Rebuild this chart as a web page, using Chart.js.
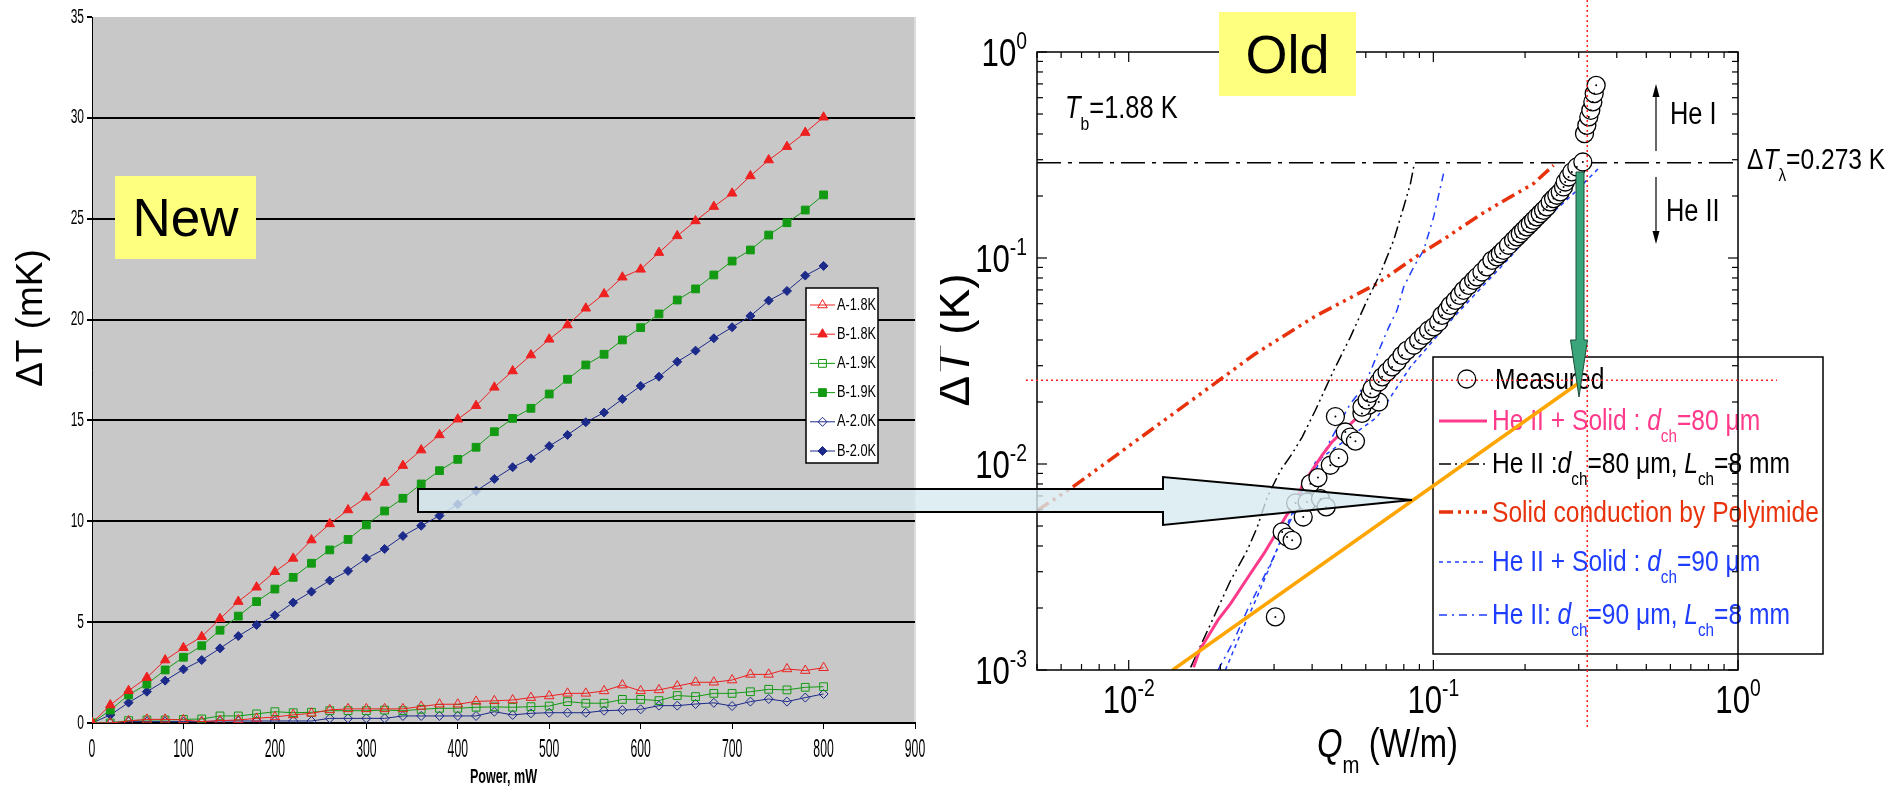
<!DOCTYPE html>
<html>
<head>
<meta charset="utf-8">
<script src="https://cdn.jsdelivr.net/npm/chart.js@4.4.1/dist/chart.umd.min.js"></script>
<style>
  html, body { margin: 0; padding: 0; background: #fff; width: 1903px; height: 790px; overflow: hidden; }
  #leftChart { position: absolute; left: 0; top: 0; }
  #rightChart { position: absolute; left: 940px; top: 0; }
  .tag { position: absolute; background: #ffff7f; color: #000; font-family: "Liberation Sans", Arial, sans-serif;
         display: flex; align-items: center; justify-content: center; }
  #overlay { position: absolute; left: 0; top: 0; pointer-events: none; }
</style>
</head>
<body>
<canvas id="leftChart" width="950" height="790"></canvas>
<canvas id="rightChart" width="963" height="790"></canvas>

<svg id="overlay" width="1903" height="790">
  <polygon points="418,489 1163,489 1163,477 1412,500 1163,525 1163,512 418,512"
           fill="rgba(214,234,240,0.8)" stroke="#000" stroke-width="2"/>
  <polygon points="1576,172 1584,172 1584,340 1587.5,340 1579,397 1570.5,340 1576,340"
           fill="#3aa57a" stroke="#1d4d3a" stroke-width="1"/>
</svg>
<div class="tag" style="left:115px;top:176px;width:141px;height:83px;font-size:53px;">New</div>
<div class="tag" style="left:1219px;top:12px;width:137px;height:84px;font-size:54px;">Old</div>

<script>
// ---------- left chart: delta T vs heater power ----------
const power = [0, 20, 40, 60, 80, 100, 120, 140, 160, 180, 200, 220, 240, 260, 280, 300, 320, 340, 360, 380, 400,
               420, 440, 460, 480, 500, 520, 540, 560, 580, 600, 620, 640, 660, 680, 700, 720, 740, 760, 780, 800];

const a18 = [0, 0.0, 0.1, 0.18, 0.18, 0.15, 0.07, 0.12, 0.15, 0.23, 0.3, 0.4, 0.48, 0.65, 0.7, 0.7, 0.7, 0.7, 0.82, 0.93, 0.93,
             1.07, 1.1, 1.14, 1.26, 1.34, 1.47, 1.47, 1.59, 1.88, 1.59, 1.64, 1.83, 2.02, 2.02, 2.13, 2.41, 2.41, 2.68, 2.6, 2.74];
const b18 = [0, 0.89, 1.6, 2.25, 3.12, 3.73, 4.28, 5.17, 6.02, 6.73, 7.5, 8.16, 9.07, 9.87, 10.56, 11.19, 11.92, 12.76, 13.53, 14.28, 15.06,
             15.73, 16.64, 17.45, 18.24, 19.02, 19.73, 20.56, 21.27, 22.1, 22.49, 23.32, 24.15, 24.89, 25.6, 26.26, 27.12, 27.91, 28.57, 29.27, 30.03];
const a19 = [0, 0.0, 0.12, 0.15, 0.15, 0.18, 0.2, 0.35, 0.35, 0.45, 0.56, 0.51, 0.53, 0.61, 0.61, 0.61, 0.64, 0.61, 0.68, 0.73, 0.73,
             0.78, 0.8, 0.78, 0.81, 0.84, 1.06, 0.98, 0.98, 1.17, 1.17, 1.11, 1.36, 1.31, 1.47, 1.47, 1.55, 1.67, 1.64, 1.77, 1.8];
const b19 = [0, 0.64, 1.39, 1.93, 2.63, 3.26, 3.83, 4.6, 5.3, 6.02, 6.64, 7.22, 7.92, 8.58, 9.1, 9.82, 10.51, 11.14, 11.85, 12.51, 13.07,
             13.67, 14.44, 15.1, 15.6, 16.31, 17.04, 17.75, 18.28, 18.99, 19.6, 20.28, 20.97, 21.52, 22.21, 22.9, 23.45, 24.19, 24.8, 25.43, 26.18];
const a20 = [0, 0.02, 0.07, 0.07, 0.07, 0.07, 0.07, 0.1, 0.1, 0.1, 0.1, 0.1, 0.1, 0.23, 0.23, 0.23, 0.23, 0.35, 0.35, 0.35, 0.35,
             0.35, 0.56, 0.4, 0.48, 0.51, 0.51, 0.51, 0.61, 0.64, 0.68, 0.86, 0.86, 0.94, 1.0, 0.84, 1.06, 1.19, 1.06, 1.26, 1.44];
const b20 = [0, 0.4, 1.01, 1.55, 2.1, 2.66, 3.12, 3.7, 4.31, 4.86, 5.34, 5.97, 6.51, 7.06, 7.54, 8.16, 8.63, 9.27, 9.78, 10.28, 10.84,
             11.5, 12.1, 12.68, 13.12, 13.73, 14.28, 14.91, 15.39, 16.06, 16.71, 17.17, 17.91, 18.46, 19.07, 19.62, 20.18, 20.94, 21.42, 22.18, 22.66];

const leftLabels = ['A-1.8K', 'B-1.8K', 'A-1.9K', 'B-1.9K', 'A-2.0K', 'B-2.0K'];

// ---------- right chart: old measurement, log-log ----------
const qm = [0.0303, 0.0319, 0.0331, 0.0344, 0.0353, 0.0374, 0.0385, 0.0426, 0.0445, 0.0395, 0.0418, 0.0459, 0.0489, 0.0477,
            0.0514, 0.0534, 0.0555, 0.0583, 0.0614, 0.0662,
            0.0583, 0.0606, 0.0621, 0.0629, 0.0662, 0.0679, 0.0705, 0.0732, 0.0760, 0.0789, 0.0819, 0.0862, 0.0895, 0.0929,
            0.0965, 0.1003, 0.1041, 0.1068, 0.1109, 0.1137, 0.1181, 0.1220, 0.1257, 0.1306, 0.1356, 0.1390, 0.1444, 0.1499,
            0.1557, 0.1617, 0.1658, 0.1700, 0.1765, 0.1833, 0.1880, 0.1928, 0.1977, 0.2028, 0.2080, 0.2132, 0.2186, 0.2242,
            0.2299, 0.2358, 0.2418, 0.2480, 0.2543, 0.2609, 0.2675, 0.2709, 0.2778, 0.2848, 0.2958, 0.3095,
            0.3134, 0.3190, 0.3238, 0.3287, 0.3338, 0.3372, 0.3423];
const dtm = [0.00181, 0.00468, 0.00442, 0.00426, 0.00647, 0.00553, 0.00654, 0.00679, 0.00619, 0.00803, 0.00859, 0.00986, 0.0107, 0.0170,
             0.0143, 0.0135, 0.0129, 0.0176, 0.0193, 0.0200,
             0.0189, 0.0204, 0.0220, 0.0232, 0.0250, 0.0265, 0.0280, 0.0296, 0.0313, 0.0337, 0.0356, 0.0377, 0.0399, 0.0421,
             0.0446, 0.0463, 0.0489, 0.0527, 0.0557, 0.0589, 0.0623, 0.0659, 0.0697, 0.0737, 0.0779, 0.0809, 0.0855, 0.0905,
             0.0974, 0.1012, 0.1050, 0.1090, 0.1153, 0.1219, 0.1265, 0.1313, 0.1363, 0.1415, 0.1468, 0.1524, 0.1582, 0.1642,
             0.1704, 0.1769, 0.1871, 0.1942, 0.2016, 0.2092, 0.2212, 0.2339, 0.2473, 0.2616, 0.2766, 0.2925,
             0.4015, 0.4406, 0.4838, 0.5212, 0.5721, 0.6280, 0.6891];

const pinkQ = [0.01633, 0.0171, 0.01965, 0.0216, 0.0251, 0.02777, 0.02996, 0.0327, 0.0357, 0.0371, 0.040, 0.0431, 0.0465, 0.06, 0.08, 0.1, 0.15, 0.2, 0.25, 0.3];
const pinkT = [0.00103, 0.00125, 0.00175, 0.0021, 0.00294, 0.00367, 0.00442, 0.00553, 0.00667, 0.00788, 0.00932, 0.0110, 0.0128, 0.0185, 0.0315, 0.045, 0.088, 0.14, 0.195, 0.27];

const heQ80 = [0.01597, 0.0216, 0.02449, 0.02642, 0.0285, 0.0315, 0.0344, 0.0371, 0.041, 0.0471, 0.0534, 0.0606, 0.067, 0.0741, 0.0799, 0.0841, 0.0862];
const heT80 = [0.00103, 0.00272, 0.00381, 0.00494, 0.00691, 0.00931, 0.01123, 0.01352, 0.01823, 0.0285, 0.0413, 0.0623, 0.084, 0.122, 0.177, 0.2297, 0.2766];

const solidQ = [0.005, 0.00653, 0.0103, 0.0164, 0.0259, 0.0409, 0.0654, 0.0907, 0.1109, 0.1444, 0.1789, 0.2133, 0.248];
const solidT = [0.00594, 0.0077, 0.0126, 0.0208, 0.0341, 0.0521, 0.0751, 0.105, 0.1265, 0.1642, 0.1977, 0.2297, 0.2818];

const mix90Q = [0.02077, 0.0233, 0.0261, 0.0292, 0.0327, 0.0366, 0.041, 0.0654, 0.0723, 0.0841, 0.1002, 0.1196, 0.1444, 0.1789, 0.2132, 0.248, 0.2884, 0.3528];
const mix90T = [0.001, 0.0015, 0.00218, 0.00323, 0.00487, 0.00705, 0.0102, 0.0169, 0.0211, 0.0296, 0.0399, 0.0537, 0.0723, 0.1011, 0.1363, 0.1672, 0.2054, 0.2772];

const he90Q = [0.01965, 0.02214, 0.0245, 0.0271, 0.02996, 0.03313, 0.0371, 0.041, 0.0459, 0.0534, 0.0591, 0.063, 0.067, 0.0714, 0.076, 0.0799, 0.0862, 0.0929, 0.1002, 0.108];
const he90T = [0.001, 0.00139, 0.00195, 0.00263, 0.00354, 0.00494, 0.00691, 0.00932, 0.01303, 0.01963, 0.02364, 0.02958, 0.037, 0.0462, 0.0557, 0.0723, 0.0904, 0.109, 0.158, 0.2569];

const orangeQ = [0.01394, 0.3034];
const orangeT = [0.001, 0.025];

const lambdaLine = 0.29;          // drawn position of the lambda line
const markerQ = 0.32;             // red dotted vertical guide
const markerT = 0.0255;           // red dotted horizontal guide
const xDecades = [-2, -1, 0];
const yDecades = [-3, -2, -1, 0];

// ---------- helpers ----------
const SANS = '"Liberation Sans", Arial, sans-serif';
const zip = (xs, ys) => xs.map((v, i) => ({ x: v, y: ys[i] }));

function squeeze(ctx, txt, x, y, size, sx, align, bold) {
  ctx.save();
  ctx.translate(x, y);
  ctx.scale(sx, 1);
  ctx.font = (bold ? 'bold ' : '') + size + 'px ' + SANS;
  ctx.textAlign = align;
  ctx.textBaseline = 'middle';
  ctx.fillText(txt, 0, 0);
  ctx.restore();
}

function rich(ctx, segs, x, y, size, opts = {}) {
  const sx = opts.sx || 0.82;
  const align = opts.align || 'left';
  const parts = segs.map(s => {
    const fs = (s.sub || s.sup) ? size * 0.62 : size;
    const font = (s.italic ? 'italic ' : '') + fs + 'px ' + SANS;
    ctx.font = font;
    return Object.assign({}, s, {
      font, w: ctx.measureText(s.t).width * sx,
      dy: s.sub ? size * 0.4 : s.sup ? -size * 0.45 : 0
    });
  });
  const total = parts.reduce((acc, p) => acc + p.w, 0);
  let cx = align === 'center' ? x - total / 2 : align === 'right' ? x - total : x;
  parts.forEach(p => {
    ctx.save();
    ctx.translate(cx, y + p.dy);
    ctx.scale(sx, 1);
    ctx.font = p.font;
    ctx.textAlign = 'left';
    ctx.textBaseline = 'alphabetic';
    ctx.fillStyle = opts.color || '#000';
    ctx.fillText(p.t, 0, 0);
    ctx.restore();
    cx += p.w;
  });
}

function seg(ctx, x1, y1, x2, y2) {
  ctx.beginPath();
  ctx.moveTo(x1, y1);
  ctx.lineTo(x2, y2);
  ctx.stroke();
}

// ---------- left chart ----------
const RED = '#ee2020', GREEN = '#139a13', NAVY = '#1c2a8a';

const leftDeco = {
  id: 'leftDeco',
  beforeDraw(chart) {
    const { ctx, chartArea: a } = chart;
    ctx.save();
    ctx.fillStyle = '#c8c8c8';
    ctx.fillRect(a.left, a.top, a.right - a.left, a.bottom - a.top);
    ctx.strokeStyle = '#dcdcdc';
    ctx.lineWidth = 2;
    seg(ctx, a.right, a.top, a.right, a.bottom);
    ctx.restore();
  },
  afterDraw(chart) {
    const { ctx, scales: { x, y } } = chart;
    ctx.save();
    ctx.fillStyle = '#000';
    y.ticks.forEach(t => squeeze(ctx, String(t.value), 84, y.getPixelForValue(t.value), 20, 0.6, 'right'));
    x.ticks.forEach(t => squeeze(ctx, String(t.value), x.getPixelForValue(t.value), 750, 26, 0.47, 'center'));
    squeeze(ctx, 'Power, mW', (x.left + x.right) / 2, 777, 21, 0.6, 'center', true);

    ctx.save();
    ctx.translate(32, 318);
    ctx.rotate(-Math.PI / 2);
    ctx.font = '37px ' + SANS;
    ctx.textAlign = 'center';
    ctx.textBaseline = 'middle';
    ctx.fillText('ΔT (mK)', 0, 0);
    ctx.restore();

    // legend box
    ctx.fillStyle = '#fff';
    ctx.fillRect(806, 288, 72, 175);
    ctx.strokeStyle = '#000';
    ctx.lineWidth = 1.5;
    ctx.strokeRect(806, 288, 72, 175);
    chart.data.datasets.forEach((ds, i) => {
      const yy = 305 + i * 29.2;
      ctx.strokeStyle = ds.borderColor;
      ctx.lineWidth = 1;
      seg(ctx, 810, yy, 835, yy);
      ctx.fillStyle = ds.pointBackgroundColor;
      ctx.strokeStyle = ds.pointBorderColor;
      Chart.helpers.drawPoint(ctx, { pointStyle: ds.pointStyle, radius: ds.pointRadius, rotation: 0, borderWidth: 1 }, 822.5, yy);
      ctx.fillStyle = '#000';
      squeeze(ctx, ds.label, 837, yy, 17, 0.75, 'left');
    });
    ctx.restore();
  }
};

function leftSet(label, values, color, style, open, radius) {
  return {
    label, data: zip(power, values), borderColor: color, borderWidth: 1,
    pointStyle: style, pointRadius: radius, pointBorderWidth: 1,
    pointBorderColor: color, pointBackgroundColor: open ? 'rgba(0,0,0,0)' : color
  };
}

new Chart(document.getElementById('leftChart'), {
  type: 'line',
  data: {
    datasets: [
      leftSet(leftLabels[0], a18, RED, 'triangle', true, 5.5),
      leftSet(leftLabels[1], b18, RED, 'triangle', false, 5.5),
      leftSet(leftLabels[2], a19, GREEN, 'rect', true, 5.5),
      leftSet(leftLabels[3], b19, GREEN, 'rect', false, 5.5),
      leftSet(leftLabels[4], a20, NAVY, 'rectRot', true, 4.5),
      leftSet(leftLabels[5], b20, NAVY, 'rectRot', false, 4.5)
    ]
  },
  options: {
    responsive: false,
    animation: false,
    events: [],
    layout: { padding: { top: 17, right: 35, left: 0, bottom: 0 } },
    plugins: { legend: { display: false }, tooltip: { enabled: false } },
    scales: {
      x: {
        type: 'linear', min: 0, max: 900,
        ticks: { stepSize: 100, display: false },
        grid: { drawOnChartArea: false, drawTicks: true, tickLength: 6, tickColor: '#000' },
        border: { color: '#000', width: 2 },
        afterFit: s => { s.height = 67; }
      },
      y: {
        min: 0, max: 35,
        ticks: { stepSize: 5, display: false },
        grid: {
          color: c => (c.tick && c.tick.value > 0 && c.tick.value < 35) ? '#000' : 'rgba(0,0,0,0)',
          lineWidth: 2, tickLength: 5, tickColor: '#000'
        },
        border: { color: '#000', width: 1 },
        afterFit: s => { s.width = 92; }
      }
    }
  },
  plugins: [leftDeco]
});

// ---------- right chart ----------
const OFF = 940;                   // page x of the right canvas
const PINK = '#ff3a8a', SOLID = '#e8320c', BLUE = '#1f3dff';

const rightSets = [
  { label: 'centres', data: zip(qm, dtm), showLine: false, pointRadius: 1, pointBackgroundColor: '#000', pointBorderWidth: 0, order: 0 },
  { label: 'Measured', data: zip(qm, dtm), showLine: false, pointStyle: 'circle', pointRadius: 9,
    pointBackgroundColor: '#fff', pointBorderColor: '#000', pointBorderWidth: 1.3, order: 1 },
  { label: 'orange', data: zip(orangeQ, orangeT), borderColor: '#ffa500', borderWidth: 3.5, pointRadius: 0, order: 2 },
  { label: 'pink', data: zip(pinkQ, pinkT), borderColor: PINK, borderWidth: 3, pointRadius: 0, order: 3 },
  { label: 'he80', data: zip(heQ80, heT80), borderColor: '#000', borderWidth: 1.5, borderDash: [12, 4, 2, 4, 2, 4], pointRadius: 0, order: 4 },
  { label: 'solid', data: zip(solidQ, solidT), borderColor: SOLID, borderWidth: 3.5, borderDash: [14, 5, 3, 5, 3, 5, 3, 5], pointRadius: 0, order: 5 },
  { label: 'mix90', data: zip(mix90Q, mix90T), borderColor: BLUE, borderWidth: 1.5, borderDash: [4, 4], pointRadius: 0, order: 6 },
  { label: 'he90', data: zip(he90Q, he90T), borderColor: BLUE, borderWidth: 1.5, borderDash: [8, 5, 2, 5], pointRadius: 0, order: 7 }
];

const rightDeco = {
  id: 'rightDeco',
  beforeDatasetsDraw(chart) {
    const { ctx, chartArea: a, scales: { y } } = chart;
    const px = X => X - OFF;
    ctx.save();
    // lambda line
    const yl = y.getPixelForValue(lambdaLine);
    ctx.strokeStyle = '#000';
    ctx.lineWidth = 1.3;
    ctx.setLineDash([24, 7, 4, 7]);
    seg(ctx, a.left, yl, a.right, yl);
    ctx.setLineDash([]);

    // legend box
    ctx.fillStyle = '#fff';
    ctx.fillRect(px(1433), 357, 390, 297);
    ctx.strokeStyle = '#000';
    ctx.lineWidth = 1.5;
    ctx.strokeRect(px(1433), 357, 390, 297);

    ctx.fillStyle = '#fff';
    ctx.strokeStyle = '#000';
    ctx.lineWidth = 1.3;
    ctx.beginPath();
    ctx.arc(px(1466.7), 379, 9, 0, Math.PI * 2);
    ctx.fill();
    ctx.stroke();
    rich(ctx, [{ t: 'Measured' }], px(1495), 389, 30);

    const rows = [
      { ds: 3, y: 421, base: 430, color: PINK, segs: [{ t: 'He II + Solid : ' }, { t: 'd', italic: true }, { t: 'ch', sub: true }, { t: '=80 μm' }] },
      { ds: 4, y: 464, base: 473, color: '#000', segs: [{ t: 'He II :' }, { t: 'd', italic: true }, { t: 'ch', sub: true }, { t: '=80 μm, ' }, { t: 'L', italic: true }, { t: 'ch', sub: true }, { t: '=8 mm' }] },
      { ds: 5, y: 512, base: 522, color: SOLID, segs: [{ t: 'Solid conduction by Polyimide' }] },
      { ds: 6, y: 562, base: 571, color: BLUE, segs: [{ t: 'He II + Solid : ' }, { t: 'd', italic: true }, { t: 'ch', sub: true }, { t: '=90 μm' }] },
      { ds: 7, y: 615, base: 624, color: BLUE, segs: [{ t: 'He II: ' }, { t: 'd', italic: true }, { t: 'ch', sub: true }, { t: '=90 μm, ' }, { t: 'L', italic: true }, { t: 'ch', sub: true }, { t: '=8 mm' }] }
    ];
    rows.forEach(r => {
      const ds = chart.data.datasets[r.ds];
      ctx.strokeStyle = ds.borderColor;
      ctx.lineWidth = ds.borderWidth;
      ctx.setLineDash(ds.borderDash || []);
      seg(ctx, px(1439), r.y, px(1487), r.y);
      ctx.setLineDash([]);
      rich(ctx, r.segs, px(1492), r.base, 30, { color: r.color });
    });

    // annotations
    rich(ctx, [{ t: 'T', italic: true }, { t: 'b', sub: true }, { t: '=1.88 K' }], px(1065), 118, 31);
    rich(ctx, [{ t: 'Δ' }, { t: 'T', italic: true }, { t: 'λ', sub: true }, { t: '=0.273 K' }], px(1747), 169, 30);
    rich(ctx, [{ t: 'He I' }], px(1670), 124, 31);
    rich(ctx, [{ t: 'He II' }], px(1666), 221, 31);
    ctx.strokeStyle = '#000';
    ctx.fillStyle = '#000';
    ctx.lineWidth = 1.2;
    const ax = px(1656);
    seg(ctx, ax, 151, ax, 90);
    ctx.beginPath(); ctx.moveTo(ax, 84); ctx.lineTo(ax - 3.5, 97); ctx.lineTo(ax + 3.5, 97); ctx.closePath(); ctx.fill();
    seg(ctx, ax, 177, ax, 238);
    ctx.beginPath(); ctx.moveTo(ax, 244); ctx.lineTo(ax - 3.5, 231); ctx.lineTo(ax + 3.5, 231); ctx.closePath(); ctx.fill();
    ctx.restore();
  },
  afterDatasetsDraw(chart) {
    const { ctx, chartArea: a, scales: { x, y } } = chart;
    const px = X => X - OFF;
    ctx.save();
    ctx.strokeStyle = '#000';
    ctx.lineWidth = 1.5;
    ctx.strokeRect(a.left, a.top, a.right - a.left, a.bottom - a.top);

    // inward ticks on all four sides (minor ticks also below the first decade)
    ctx.lineWidth = 1.2;
    [-3].concat(xDecades).forEach(e => {
      for (let m = 1; m <= 9; m++) {
        const v = m * Math.pow(10, e);
        if (v < x.min * 0.999 || v > x.max * 1.001) continue;
        const p = x.getPixelForValue(v), len = m === 1 ? 10 : 6;
        seg(ctx, p, a.bottom, p, a.bottom - len);
        seg(ctx, p, a.top, p, a.top + len);
      }
    });
    yDecades.forEach(e => {
      for (let m = 1; m <= 9; m++) {
        const v = m * Math.pow(10, e);
        if (v < y.min * 0.999 || v > y.max * 1.001) continue;
        const p = y.getPixelForValue(v), len = m === 1 ? 10 : 6;
        seg(ctx, a.left, p, a.left + len, p);
        seg(ctx, a.right, p, a.right - len, p);
      }
    });

    // tick labels
    yDecades.forEach(e => {
      rich(ctx, [{ t: '10' }, { t: String(e), sup: true }], px(1027), y.getPixelForValue(Math.pow(10, e)) + 14, 38, { align: 'right' });
    });
    xDecades.forEach(e => {
      rich(ctx, [{ t: '10' }, { t: String(e), sup: true }], x.getPixelForValue(Math.pow(10, e)), 713, 38, { align: 'center' });
    });

    // axis titles
    rich(ctx, [{ t: 'Q', italic: true }, { t: 'm', sub: true }, { t: ' (W/m)' }], (a.left + a.right) / 2, 757, 40, { align: 'center' });
    ctx.save();
    ctx.translate(px(953), 340);
    ctx.rotate(-Math.PI / 2);
    rich(ctx, [{ t: 'Δ' }, { t: 'T', italic: true }, { t: ' (K)' }], 0, 16, 46, { align: 'center', sx: 1 });
    ctx.restore();

    // red dotted guides
    ctx.strokeStyle = '#ff2020';
    ctx.lineWidth = 1.5;
    ctx.setLineDash([2, 3]);
    const gx = x.getPixelForValue(markerQ);
    seg(ctx, gx, 0, gx, 730);
    const gy = y.getPixelForValue(markerT);
    seg(ctx, px(1026), gy, px(1777), gy);
    ctx.restore();
  }
};

new Chart(document.getElementById('rightChart'), {
  type: 'line',
  data: { datasets: rightSets },
  options: {
    responsive: false,
    animation: false,
    events: [],
    layout: { padding: { top: 52, right: 165, left: 0, bottom: 0 } },
    plugins: { legend: { display: false }, tooltip: { enabled: false } },
    elements: { line: { tension: 0 } },
    scales: {
      x: {
        type: 'logarithmic', min: 0.005, max: 1,
        ticks: { display: false },
        grid: { display: false },
        border: { display: false },
        afterFit: s => { s.height = 120; }
      },
      y: {
        type: 'logarithmic', min: 0.001, max: 1,
        ticks: { display: false },
        grid: { display: false },
        border: { display: false },
        afterFit: s => { s.width = 97; }
      }
    }
  },
  plugins: [rightDeco]
});
</script>
</body>
</html>
